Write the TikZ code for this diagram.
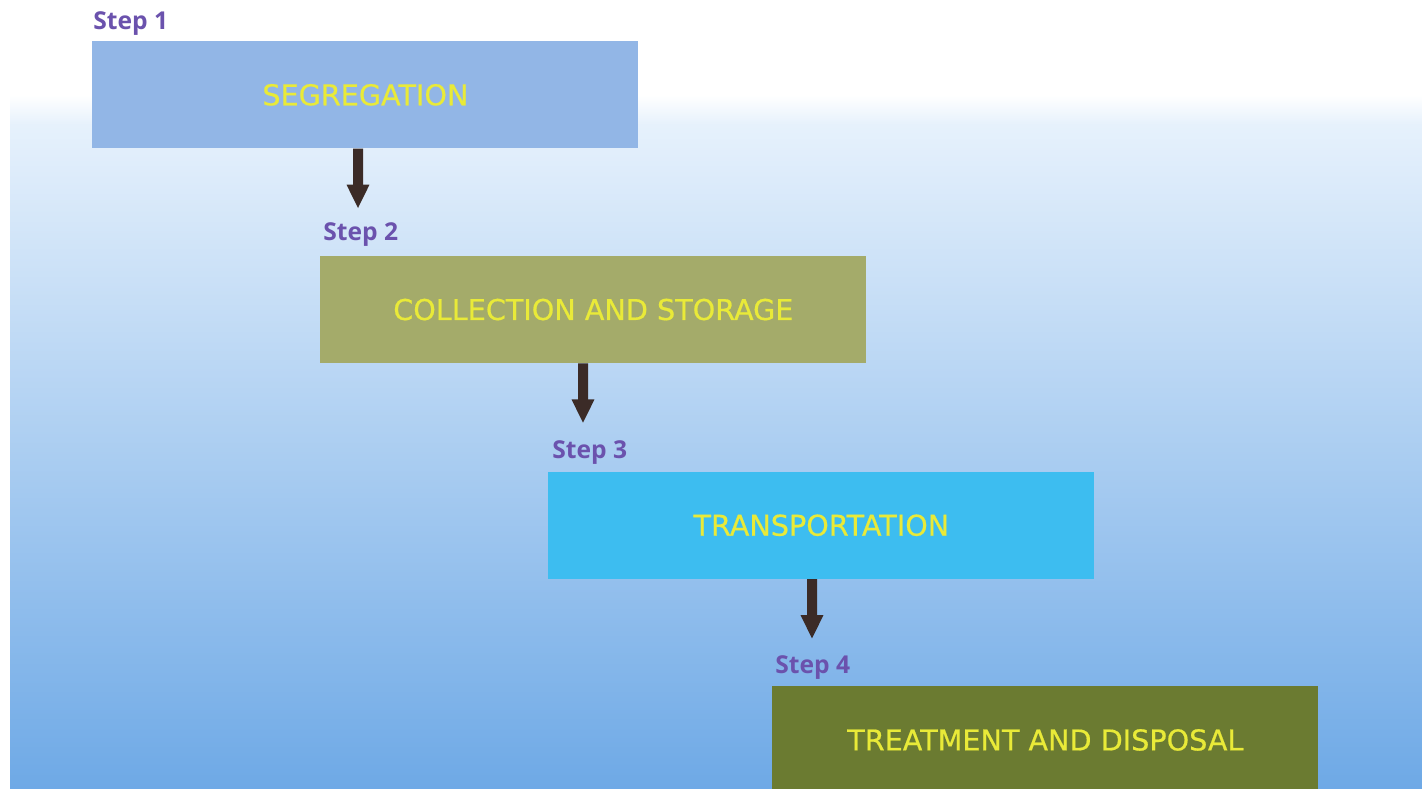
\documentclass[tikz,border=0pt]{standalone}
\usepackage{fontspec}
\setmainfont{Open Sans}
\newfontfamily\boxfont{DejaVu Sans}[FakeBold=0.6]
\usepackage{tikz}
\usetikzlibrary{arrows.meta, positioning, calc}

\definecolor{skytop}{HTML}{E6F1FC}
\definecolor{skybottom}{HTML}{6EA9E6}
\definecolor{segblue}{HTML}{92B6E6}
\definecolor{colgreen}{HTML}{A4AB6A}
\definecolor{trancyan}{HTML}{3DBDF0}
\definecolor{treatolive}{HTML}{6B7B31}
\definecolor{labelyellow}{HTML}{E9EA38}
\definecolor{steppurple}{HTML}{6B52AD}
\definecolor{arrowbrown}{HTML}{3B2B27}

\begin{document}
\begin{tikzpicture}[
        stage/.style={
            anchor=north west,
            minimum width=10.92cm,
            minimum height=2.14cm,
            inner sep=0pt,
            align=center,
            text=labelyellow,
            font=\boxfont\fontsize{16.3}{19}\selectfont
        },
        steplabel/.style={
            anchor=base west,
            inner sep=0pt,
            text=steppurple,
            font=\fontsize{14}{16}\selectfont\bfseries
        },
        flow/.style={-{Triangle[width=0.42cm, length=0.48cm]}, line width=0.2cm, arrowbrown}
    ]

        % Fond
        \useasboundingbox (0,0) rectangle (28.44,-15.76);
        \fill[white] (0,0) rectangle (28.44,-15.76);
        \shade[top color=white, bottom color=skytop]
            (0.2,-1.9) rectangle (28.44,-2.5);
        \shade[top color=skytop, bottom color=skybottom]
            (0.2,-2.49) rectangle (28.44,-15.76);

        % Les quatre étapes
        \node[stage, fill=segblue] (seg) at (1.84,-0.82) {SEGREGATION};

        \node[stage, fill=colgreen]
            (coll) at ($(seg.south west)+(4.56,-2.14)$) {COLLECTION AND STORAGE};

        \node[stage, fill=trancyan]
            (trans) at ($(coll.south west)+(4.56,-2.16)$) {TRANSPORTATION};

        \node[stage, fill=treatolive]
            (treat) at ($(trans.south west)+(4.48,-2.14)$) {TREATMENT AND DISPOSAL};

        % Étiquettes
        \node[steplabel] (step1) at ($(seg.north west)+(0.02,0.24)$) {Step 1};
        \node[steplabel] (step2) at ($(coll.north west)+(0.06,0.3)$) {Step 2};
        \node[steplabel] (step3) at ($(trans.north west)+(0.08,0.26)$) {Step 3};
        \node[steplabel] (step4) at ($(treat.north west)+(0.06,0.26)$) {Step 4};

        % Flèches
        \draw[flow] ($(seg.south west)+(5.32,0)$) -- ($(coll.north west)+(0.76,0.94)$);
        \draw[flow] ($(coll.south west)+(5.26,0)$) -- ($(trans.north west)+(0.70,0.96)$);
        \draw[flow] ($(trans.south west)+(5.28,0)$) -- ($(treat.north west)+(0.80,0.94)$);

    \end{tikzpicture}
\end{document}
